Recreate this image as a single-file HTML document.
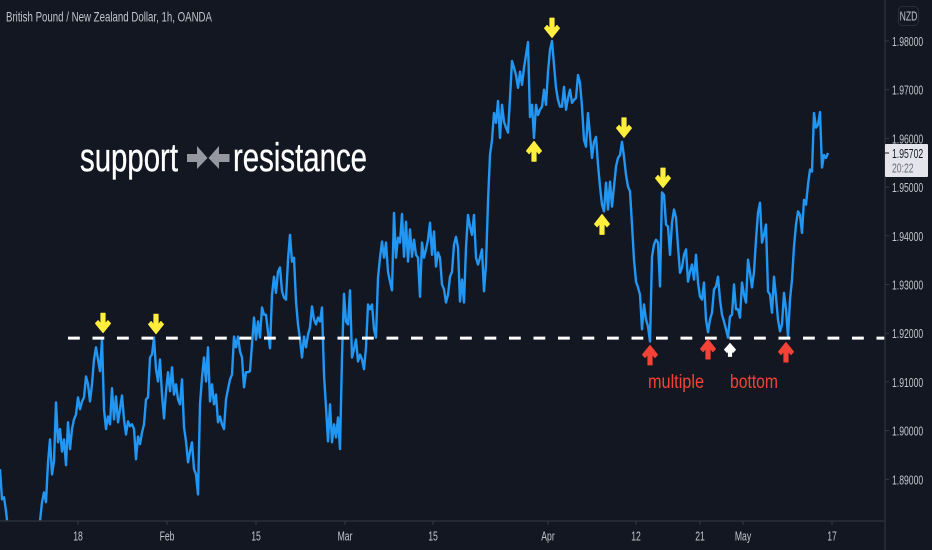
<!DOCTYPE html>
<html lang="en">
<head>
<meta charset="utf-8">
<title>British Pound / New Zealand Dollar, 1h, OANDA</title>
<style>
html,body{margin:0;padding:0;background:#131722;}
body{width:932px;height:550px;overflow:hidden;}
svg{display:block;font-family:"Liberation Sans",sans-serif;}
</style>
</head>
<body>
<svg id="chart" xmlns="http://www.w3.org/2000/svg" width="932" height="550" viewBox="0 0 932 550">
  <defs>
    <clipPath id="pane-clip"><rect x="0" y="0" width="885" height="521"></rect></clipPath>
  </defs>
  <rect x="0" y="0" width="932" height="550" fill="#131722"></rect>
  <g id="price-line-layer" clip-path="url(#pane-clip)"></g>
  <g id="support-layer"></g>
  <g id="arrow-layer"></g>
  <line x1="885" y1="0" x2="885" y2="550" stroke="#2a2e39" stroke-width="1.5"></line>
  <line x1="0" y1="521" x2="885" y2="521" stroke="#2a2e39" stroke-width="1.5"></line>
  <g id="time-axis"></g>
  <g id="price-axis"></g>

  <text x="6" y="21.5" font-size="14" fill="#c2c5cc" textLength="206" lengthAdjust="spacingAndGlyphs">British Pound / New Zealand Dollar, 1h, OANDA</text>

  <text x="80" y="171" font-size="40" fill="#ffffff" stroke="#ffffff" stroke-width="0.35" textLength="98" lengthAdjust="spacingAndGlyphs">support</text>
  <g fill="#9598a1">
    <polygon points="187,154 197,154 197,146 207.5,158 197,169 197,162 187,162"></polygon>
    <polygon points="229.5,154 219,154 219,146 208.5,158 219,169 219,162 229.5,162"></polygon>
  </g>
  <text x="233" y="171" font-size="40" fill="#ffffff" stroke="#ffffff" stroke-width="0.35" textLength="134" lengthAdjust="spacingAndGlyphs">resistance</text>

  <text x="648" y="388" font-size="19" fill="#f44336" textLength="56" lengthAdjust="spacingAndGlyphs">multiple</text>
  <text x="730" y="388" font-size="19" fill="#f44336" textLength="48" lengthAdjust="spacingAndGlyphs">bottom</text>

  <g>
    <rect x="898.5" y="6.5" width="20" height="19" rx="4" fill="#131722" stroke="#2a2e39"></rect>
    <text transform="translate(908.5 20.5) scale(.665 1)" text-anchor="middle" font-size="13" fill="#c2c5cc">NZD</text>
  </g>

  <g>
    <rect x="885" y="144" width="43" height="33" rx="1" fill="#e3e5ea"></rect>
    <line x1="885" y1="153" x2="889" y2="153" stroke="#131722"></line>
    <text transform="translate(892 158) scale(.665 1)" font-size="13" fill="#131722">1.95702</text>
    <text transform="translate(892 172.5) scale(.665 1)" font-size="13" fill="#6a6d78">20:22</text>
  </g>
</svg>

<script>
// Approximate closes, one sample per fixed bar step.
const closePrices = [
  1.8921,1.8859,1.8863,1.8835,1.8798,1.8790,1.8785,1.8780,1.8776,1.8772,1.8770,1.8768,1.8770,1.8774,1.8778,1.8782,1.8786,1.8790,1.8796,1.8806,
  1.8814,1.8853,1.8873,1.8853,1.8935,1.8982,1.8910,1.8937,1.9058,1.8976,1.9003,1.8957,1.8982,1.8929,1.9017,1.8962,1.9003,1.9023,1.9033,1.9068,
  1.9044,1.9060,1.9068,1.9111,1.9095,1.9060,1.9095,1.9146,1.9171,1.9146,1.9122,1.9187,1.9044,1.9003,1.9029,1.9013,1.9087,1.9023,1.9070,1.9017,
  1.9044,1.9072,1.9023,1.8992,1.9019,1.9009,1.9013,1.9003,1.8941,1.8988,1.8972,1.8996,1.9013,1.9064,1.9068,1.9150,1.9156,1.9191,1.9126,1.9101,
  1.9146,1.9074,1.9025,1.9081,1.9120,1.9081,1.9130,1.9074,1.9095,1.9064,1.9054,1.9105,1.9007,1.8978,1.8935,1.8957,1.8976,1.8921,1.8910,1.8869,
  1.9054,1.9109,1.9150,1.9101,1.9171,1.9060,1.9095,1.9054,1.9074,1.9017,1.9029,1.9013,1.9003,1.9064,1.9085,1.9105,1.9115,1.9193,1.9171,1.9193,
  1.9163,1.9150,1.9089,1.9120,1.9120,1.9122,1.9177,1.9232,1.9187,1.9224,1.9191,1.9253,1.9238,1.9238,1.9202,1.9169,1.9279,1.9316,1.9283,1.9326,
  1.9335,1.9286,1.9273,1.9269,1.9351,1.9402,1.9347,1.9355,1.9265,1.9218,1.9187,1.9150,1.9193,1.9171,1.9197,1.9212,1.9255,1.9228,1.9218,1.9232,
  1.9224,1.9253,1.9115,1.9048,1.8978,1.9054,1.8976,1.9013,1.8986,1.9027,1.8962,1.9150,1.9281,1.9224,1.9218,1.9288,1.9150,1.9167,1.9187,1.9142,
  1.9156,1.9146,1.9126,1.9171,1.9259,1.9249,1.9259,1.9208,1.9191,1.9314,1.9355,1.9388,1.9355,1.9386,1.9326,1.9306,1.9288,1.9447,1.9355,1.9396,
  1.9386,1.9445,1.9357,1.9429,1.9347,1.9413,1.9357,1.9392,1.9361,1.9355,1.9275,1.9386,1.9355,1.9372,1.9392,1.9427,1.9361,1.9409,1.9337,1.9366,
  1.9355,1.9300,1.9290,1.9263,1.9279,1.9316,1.9326,1.9382,1.9398,1.9376,1.9265,1.9310,1.9263,1.9376,1.9443,1.9419,1.9402,1.9443,1.9355,1.9341,
  1.9355,1.9372,1.9286,1.9341,1.9470,1.9566,1.9597,1.9652,1.9632,1.9677,1.9601,1.9669,1.9634,1.9622,1.9612,1.9683,1.9759,1.9745,1.9730,1.9704,
  1.9737,1.9710,1.9745,1.9771,1.9798,1.9644,1.9669,1.9601,1.9669,1.9648,1.9659,1.9665,1.9700,1.9669,1.9737,1.9782,1.9800,1.9751,1.9704,1.9679,
  1.9665,1.9665,1.9706,1.9659,1.9683,1.9700,1.9673,1.9679,1.9683,1.9730,1.9714,1.9665,1.9597,1.9583,1.9652,1.9607,1.9560,1.9593,1.9603,1.9546,
  1.9501,1.9464,1.9450,1.9509,1.9454,1.9511,1.9460,1.9501,1.9542,1.9560,1.9566,1.9593,1.9562,1.9525,1.9501,1.9491,1.9423,1.9351,1.9306,1.9294,
  1.9279,1.9208,1.9259,1.9228,1.9214,1.9183,1.9357,1.9382,1.9392,1.9386,1.9296,1.9489,1.9484,1.9423,1.9419,1.9361,1.9427,1.9454,1.9437,1.9378,
  1.9324,1.9335,1.9361,1.9372,1.9306,1.9326,1.9341,1.9310,1.9361,1.9304,1.9275,1.9269,1.9304,1.9228,1.9202,1.9228,1.9242,1.9290,1.9296,1.9316,
  1.9269,1.9238,1.9224,1.9208,1.9191,1.9234,1.9238,1.9300,1.9249,1.9249,1.9232,1.9304,1.9279,1.9263,1.9351,1.9324,1.9294,1.9326,1.9392,1.9447,
  1.9468,1.9386,1.9402,1.9423,1.9286,1.9279,1.9242,1.9316,1.9275,1.9228,1.9204,1.9218,1.9283,1.9249,1.9193,1.9269,1.9310,1.9378,1.9423,1.9450,
  1.9443,1.9406,1.9474,1.9464,1.9505,1.9536,1.9532,1.9652,1.9622,1.9628,1.9654,1.9540,1.9566,1.9560,1.9570
];
const priceTicks = [1.98, 1.97, 1.96, 1.95, 1.94, 1.93, 1.92, 1.91, 1.90, 1.89];
const timeTickLabels = ['18', 'Feb', '15', 'Mar', '15', 'Apr', '12', '21', 'May', '17'];
const timeTickBars = [39, 83.5, 128, 172.5, 216.5, 274, 318, 350, 371.5, 416];
const supportPrice = 1.919;
const yellowDownBars = [51.5, 78, 276, 312, 331.5];
const yellowDownPrices = [1.9200, 1.9198, 1.9806, 1.9601, 1.9498];
const yellowUpBars = [267, 301];
const yellowUpPrices = [1.9595, 1.9445];
const redUpBars = [325, 354, 393];
const redUpPrices = [1.9176, 1.9188, 1.9182];
const whiteUpBars = [365];
const whiteUpPrices = [1.9180];

const NS = 'http://www.w3.org/2000/svg';
const BAR_STEP = 2;
const PANE_RIGHT = 885;
const PANE_BOTTOM = 521;
function xScale(bar) { return bar * BAR_STEP; }
function yScale(price) { return 41 + (1.98 - price) * 4870; }
function make(tag, attrs) {
  const el = document.createElementNS(NS, tag);
  Object.keys(attrs).forEach(function (k) { el.setAttribute(k, attrs[k]); });
  return el;
}

// Price line
const lineLayer = document.getElementById('price-line-layer');
const pathData = closePrices.map(function (p, i) {
  return (i ? 'L' : 'M') + xScale(i).toFixed(1) + ' ' + yScale(p).toFixed(1);
}).join('');
const pricePath = make('path', { d: pathData, fill: 'none', stroke: '#2196f3', 'stroke-width': 2.4, 'stroke-linejoin': 'round' });


lineLayer.appendChild(pricePath);

// Support level
const supportLine = make('line', {
  x1: 68, x2: PANE_RIGHT, y1: yScale(supportPrice), y2: yScale(supportPrice),
  stroke: '#ffffff', 'stroke-width': 3, 'stroke-dasharray': '11.8 12.7'
});


document.getElementById('support-layer').appendChild(supportLine);

// Arrows: w = head width, h = length, dir = 1 points up, -1 points down
function arrowPoints(x, tipY, w, h, dir) {
  const hw = w / 2 - 0.5, sw = Math.max(1.6, w * 0.13), hd = h * 0.48;
  const pts = [
    [0, 0.5], [hw, hd], [hw - 2.6, hd + 2.8], [sw, hd - 0.6],
    [sw, h - 0.5], [-sw, h - 0.5], [-sw, hd - 0.6], [-hw + 2.6, hd + 2.8], [-hw, hd]
  ];
  return pts.map(function (p) { return (x + p[0]).toFixed(1) + ',' + (tipY + dir * p[1]).toFixed(1); }).join(' ');
}
const arrowLayer = document.getElementById('arrow-layer');
yellowDownBars.forEach(function (b, i) {
  const a = make('polygon', { points: arrowPoints(xScale(b), yScale(yellowDownPrices[i]), 16, 20.5, -1), fill: '#ffee3b', stroke: '#ffee3b', 'stroke-width': 1, 'stroke-linejoin': 'round' });
  
  
  arrowLayer.appendChild(a);
});
yellowUpBars.forEach(function (b, i) {
  const a = make('polygon', { points: arrowPoints(xScale(b), yScale(yellowUpPrices[i]), 16, 21, 1), fill: '#ffee3b', stroke: '#ffee3b', 'stroke-width': 1, 'stroke-linejoin': 'round' });
  
  
  arrowLayer.appendChild(a);
});
redUpBars.forEach(function (b, i) {
  const a = make('polygon', { points: arrowPoints(xScale(b), yScale(redUpPrices[i]), 16, 20.5, 1), fill: '#f44336', stroke: '#f44336', 'stroke-width': 1, 'stroke-linejoin': 'round' });
  
  
  arrowLayer.appendChild(a);
});
whiteUpBars.forEach(function (b, i) {
  const a = make('polygon', { points: arrowPoints(xScale(b), yScale(whiteUpPrices[i]), 12, 14, 1), fill: '#ffffff', stroke: '#ffffff', 'stroke-width': 1, 'stroke-linejoin': 'round' });
  
  
  arrowLayer.appendChild(a);
});

// Time axis
const timeAxis = document.getElementById('time-axis');
timeTickLabels.forEach(function (label, i) {
  const x = xScale(timeTickBars[i]);
  const tick = make('line', { x1: x, x2: x, y1: PANE_BOTTOM, y2: PANE_BOTTOM + 4, stroke: '#363a45' });
  
  
  timeAxis.appendChild(tick);
  const t = make('text', { transform: 'translate(' + x + ' 540.5) scale(.665 1)', 'text-anchor': 'middle', 'font-size': 13, fill: '#c2c5cc' });
  
  
  t.textContent = label;
  timeAxis.appendChild(t);
});

// Price axis
const priceAxis = document.getElementById('price-axis');
priceTicks.forEach(function (p) {
  const y = yScale(p);
  const tick = make('line', { x1: PANE_RIGHT, x2: PANE_RIGHT + 4, y1: y, y2: y, stroke: '#363a45' });
  
  
  priceAxis.appendChild(tick);
  const t = make('text', { transform: 'translate(892 ' + (y + 5) + ') scale(.665 1)', 'font-size': 13, fill: '#c2c5cc' });
  
  
  t.textContent = p.toFixed(5);
  priceAxis.appendChild(t);
});
</script>
</body>
</html>
